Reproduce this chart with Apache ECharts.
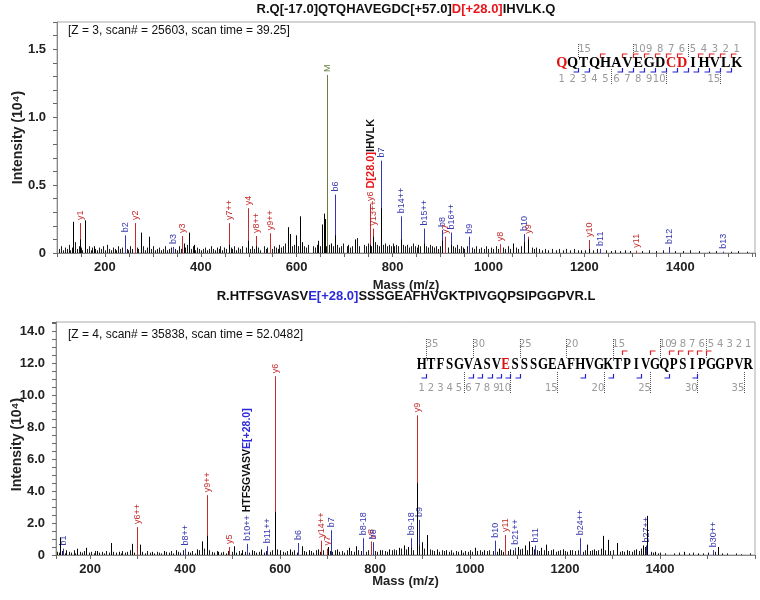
<!DOCTYPE html>
<html><head><meta charset="utf-8">
<script src="https://cdn.jsdelivr.net/npm/echarts@6/dist/echarts.min.js"></script>
<style>html,body{margin:0;padding:0;background:#fff}#c{width:760px;height:600px}</style>
</head><body><div id="c"></div>
<script>
// ---------------- DATA ----------------
const topTitleParts = [['R.Q[-17.0]QTQHAVEGDC[+57.0]', 'k'], ['D[+28.0]', 'r'], ['IHVLK.Q', 'k']];
const botTitleParts = [['R.HTFSGVASV', 'k'], ['E[+28.0]', 'b'], ['SSSGEAFHVGKTPIVGQPSIPGGPVR.L', 'k']];
const topInfo = '[Z = 3, scan# = 25603, scan time = 39.25]';
const botInfo = '[Z = 4, scan# = 35838, scan time = 52.0482]';
const xName = 'Mass (m/z)';
const yName = 'Intensity (10\u2074)';

// annotated fragment ions (m/z, intensity in 10^4, label)
const topIonMz = [148, 242, 263, 342, 361, 458, 498, 515, 544, 663, 679, 752, 760, 775, 817, 865, 904, 910, 921, 960, 1025, 1075, 1083, 1210, 1233, 1308, 1377, 1490];
const topIonInt = [0.22, 0.13, 0.22, 0.045, 0.125, 0.22, 0.33, 0.125, 0.145, 1.31, 0.43, 0.36, 0.18, 0.68, 0.27, 0.18, 0.17, 0.12, 0.15, 0.12, 0.065, 0.14, 0.12, 0.095, 0.03, 0.017, 0.045, 0.01];
const topIonLabel = ['y1','b2','y2','b3','y3','y7++','y4','y8++','y9++','M','b6','y6','y13++','b7','b14++','b15++','b8','y7','b16++','b9','y8','b10','y9','y10','b11','y11','b12','b13'];
const topFragParts = [['D[28.0]', 'r'], ['IHVLK', 'k']];
const topFragIon = 'y6';

const botIonMz = [143, 299, 400, 446, 493, 531, 573, 589, 638, 686, 699, 707, 775, 791, 796, 876, 888, 893, 1053, 1074, 1095, 1137, 1232, 1371, 1511];
const botIonInt = [0.4, 1.75, 0.4, 3.75, 0.5, 0.7, 0.55, 11.2, 0.75, 0.9, 0.4, 1.55, 1.05, 0.85, 0.8, 1.05, 8.75, 2.2, 0.9, 1.25, 0.45, 0.6, 1.05, 0.6, 0.3];
const botIonLabel = ['b1','y6++','b8++','y9++','y5','b10++','b11++','y6','b6','y14++','y7','b7','b8-18','y8','b8','b9-18','y9','b9','b10','y11','b21++','b11','b24++','b27++','b30++'];
const botFragParts = [['HTFSGVASV', 'k'], ['E[+28.0]', 'b']];
const botFragIon = 'b10++';

// unannotated peaks [m/z, intensity]
const topMajorPeaks = [[133,0.23],[147,0.10],[158,0.24],[178,0.05],[275,0.15],[292,0.12],[365,0.07],[375,0.15],[385,0.06],[458,0.06],[498,0.09],[515,0.05],[581,0.19],[585,0.14],[598,0.13],[606,0.27],[612,0.08],[645,0.09],[652,0.21],[656,0.29],[659,0.25],[672,0.07],[679,0.13],[721,0.10],[752,0.06],[760,0.12],[775,0.33],[817,0.10],[865,0.07],[904,0.09],[921,0.06],[1052,0.07],[1075,0.08],[1083,0.10],[1194,0.02],[1210,0.03]];
const topNoisePeaks = [[105,.03],[108,.05],[112,.02],[116,.04],[120,.03],[124,.06],[128,.02],[131,.04],[137,.08],[141,.03],[145,.05],[150,.04],[153,.02],[162,.03],[166,.05],[170,.02],[174,.04],[179,.03],[183,.02],[187,.04],[191,.03],[196,.05],[200,.02],[204,.06],[208,.03],[212,.02],[216,.04],[220,.03],[224,.02],[228,.05],[232,.03],[236,.04],[245,.03],[249,.02],[253,.05],[257,.03],[266,.04],[270,.03],[279,.05],[283,.02],[287,.04],[296,.03],[300,.05],[304,.02],[308,.03],[313,.04],[317,.02],[321,.03],[325,.05],[329,.02],[334,.03],[338,.04],[346,.03],[350,.02],[354,.05],[358,.03],[368,.04],[372,.06],[379,.03],[383,.05],[388,.02],[392,.04],[396,.03],[401,.02],[405,.03],[409,.04],[413,.02],[417,.03],[421,.05],[425,.03],[429,.02],[433,.04],[437,.03],[441,.05],[445,.02],[449,.04],[453,.03],[462,.04],[466,.03],[470,.05],[474,.02],[478,.04],[482,.03],[486,.05],[494,.04],[502,.03],[506,.05],[510,.03],[519,.04],[523,.02],[531,.05],[535,.03],[539,.04],[548,.03],[552,.05],[556,.04],[560,.03],[564,.06],[568,.04],[572,.05],[576,.07],[590,.05],[594,.06],[602,.05],[616,.05],[620,.04],[624,.06],[634,.05],[638,.04],[642,.06],[648,.05],[662,.05],[668,.06],[676,.05],[684,.06],[688,.04],[692,.05],[696,.07],[704,.05],[708,.06],[712,.04],[716,.05],[725,.11],[730,.05],[740,.06],[744,.05],[748,.07],[756,.05],[764,.08],[768,.06],[772,.05],[780,.06],[784,.07],[788,.05],[792,.06],[796,.05],[800,.07],[804,.05],[808,.06],[812,.05],[822,.06],[826,.05],[830,.06],[834,.04],[838,.05],[842,.07],[846,.05],[850,.04],[854,.06],[858,.05],[870,.05],[874,.04],[878,.06],[882,.05],[886,.04],[890,.05],[894,.03],[898,.05],[915,.04],[926,.05],[930,.04],[934,.06],[938,.03],[942,.05],[946,.04],[950,.03],[955,.05],[966,.04],[970,.03],[975,.05],[980,.03],[985,.04],[990,.03],[995,.05],[1000,.03],[1005,.04],[1010,.03],[1015,.05],[1020,.03],[1030,.04],[1035,.03],[1040,.05],[1045,.03],[1058,.04],[1062,.03],[1067,.05],[1090,.04],[1095,.03],[1100,.04],[1106,.03],[1112,.02],[1118,.03],[1125,.02],[1132,.03],[1140,.02],[1148,.03],[1155,.02],[1162,.03],[1170,.02],[1178,.03],[1186,.02],[1202,.02],[1218,.02],[1226,.03],[1245,.02],[1255,.015],[1265,.02],[1275,.015],[1285,.02],[1295,.015],[1320,.015],[1335,.02],[1350,.015],[1365,.02],[1390,.015],[1405,.015],[1420,.02],[1440,.015],[1460,.01],[1475,.015],[1505,.01],[1520,.015],[1540,.01]];

const botMajorPeaks = [[137,1.1],[150,0.3],[173,0.4],[192,0.45],[215,0.25],[244,0.75],[260,0.2],[288,0.7],[305,0.65],[330,0.2],[355,0.25],[380,0.3],[425,0.35],[436,0.85],[446,1.2],[470,0.2],[503,0.55],[520,0.3],[540,0.3],[560,0.35],[589,2.7],[600,0.3],[620,0.35],[645,0.55],[660,0.3],[680,0.35],[700,0.5],[720,0.35],[745,0.45],[760,0.55],[810,0.3],[830,0.35],[850,0.45],[860,0.6],[870,0.5],[888,4.5],[898,0.8],[910,1.25],[930,0.35],[950,0.3],[980,0.3],[1010,0.45],[1030,0.3],[1060,0.4],[1085,0.35],[1100,0.5],[1115,0.6],[1124,0.85],[1130,0.5],[1150,0.45],[1160,0.65],[1175,0.35],[1195,0.35],[1210,0.3],[1247,0.65],[1260,0.35],[1280,1.2],[1291,0.95],[1309,0.75],[1330,0.3],[1350,0.35],[1365,0.6],[1373,2.45],[1390,0.2],[1450,0.2],[1480,0.1],[1522,0.5]];
const botNoisePeaks = [[130,.2],[134,.15],[141,.25],[146,.1],[155,.2],[160,.15],[165,.3],[169,.1],[178,.2],[183,.15],[187,.25],[197,.15],[202,.2],[207,.1],[211,.25],[219,.15],[224,.2],[229,.1],[234,.25],[239,.15],[249,.2],[254,.15],[264,.1],[268,.25],[273,.15],[278,.2],[283,.3],[293,.15],[310,.2],[315,.1],[320,.25],[325,.15],[335,.1],[340,.2],[345,.15],[350,.1],[360,.2],[365,.15],[370,.25],[375,.1],[385,.2],[390,.15],[395,.3],[405,.2],[410,.15],[415,.25],[420,.1],[430,.3],[440,.4],[451,.3],[456,.2],[461,.15],[466,.25],[475,.15],[480,.2],[485,.1],[490,.25],[498,.2],[508,.15],[513,.25],[517,.1],[525,.2],[535,.15],[545,.25],[550,.15],[555,.2],[565,.15],[570,.25],[578,.2],[583,.3],[594,.35],[605,.2],[610,.15],[615,.25],[625,.2],[630,.3],[635,.15],[650,.25],[655,.2],[665,.25],[670,.15],[675,.3],[685,.2],[690,.3],[705,.25],[710,.2],[715,.3],[725,.2],[730,.25],[735,.15],[740,.3],[750,.25],[755,.2],[765,.3],[770,.25],[780,.2],[785,.3],[800,.25],[805,.2],[815,.3],[820,.25],[825,.2],[835,.3],[840,.35],[845,.3],[855,.4],[865,.35],[875,.45],[880,.3],[893,.6],[903,.4],[915,.35],[920,.3],[925,.25],[935,.2],[940,.3],[945,.25],[955,.2],[960,.3],[965,.15],[970,.25],[975,.2],[985,.15],[990,.25],[995,.2],[1000,.3],[1005,.2],[1015,.25],[1020,.3],[1025,.2],[1035,.25],[1040,.3],[1048,.25],[1056,.2],[1065,.3],[1070,.2],[1080,.25],[1090,.3],[1095,.2],[1105,.35],[1110,.4],[1120,.3],[1135,.35],[1140,.3],[1145,.25],[1155,.3],[1165,.25],[1170,.3],[1180,.2],[1185,.25],[1190,.3],[1200,.25],[1205,.2],[1215,.3],[1220,.25],[1228,.3],[1238,.2],[1242,.3],[1252,.25],[1256,.3],[1265,.25],[1270,.3],[1275,.4],[1285,.3],[1295,.25],[1300,.3],[1315,.2],[1320,.25],[1325,.2],[1335,.25],[1340,.2],[1345,.3],[1355,.25],[1360,.4],[1368,.5],[1380,.2],[1385,.15],[1395,.1],[1400,.15],[1410,.1],[1430,.1],[1440,.15],[1460,.1],[1470,.15],[1490,.1],[1500,.15],[1515,.2],[1530,.1],[1540,.1],[1560,.1],[1570,.05],[1590,.1]];

// peptide sequence coverage
const topSeq = 'QQTQHAVEGDCDIHVLK';
const topSeqMod = [0, 10, 11];
const topSeqY = [1, 2, 3, 4, 6, 7, 8, 9, 10, 11, 13];
const topSeqB = [2, 3, 6, 7, 8, 9, 10, 11, 12, 13, 14, 15, 16];
const botSeq = 'HTFSGVASVESSSGEAFHVGKTPIVGQPSIPGGPVR';
const botSeqMod = [9];
const botSeqY = [5, 6, 7, 8, 9, 11, 14];
const botSeqB = [1, 6, 7, 8, 9, 10, 11, 18, 21, 24, 27, 30];

// ---------------- STYLE ----------------
const SANS = '"Liberation Sans", Arial, sans-serif';
const C = { k: '#111', r: '#e8161b', b: '#2b2bdc' };
const ION = { y: '#c42b2b', b: '#3535b0', M: '#6b7f3e' };
const measureCtx = document.createElement('canvas').getContext('2d');
function textW(t, font) { measureCtx.font = font; return measureCtx.measureText(t).width; }
function rich(parts, size) {
  const r = {};
  Object.keys(C).forEach(k => { r[k] = { fill: C[k], fontSize: size, fontWeight: 'bold', fontFamily: SANS }; });
  return { text: parts.map(p => '{' + p[1] + '|' + p[0] + '}').join(''), rich: r };
}

const LABEL_FONT = '9px ' + SANS;
function stickRender(color) {
  return function (params, api) {
    const p0 = api.coord([api.value(0), 0]);
    const p1 = api.coord([api.value(0), api.value(1)]);
    const x = Math.round(p0[0]) + 0.5;
    return { type: 'line', silent: true, shape: { x1: x, y1: p0[1], x2: x, y2: p1[1] }, style: { stroke: color, lineWidth: 1 } };
  };
}
function ionRender(labels, fragParts, fragIon, fragSize) {
  return function (params, api) {
    const i = params.dataIndex;
    const p0 = api.coord([api.value(0), 0]);
    const p1 = api.coord([api.value(0), api.value(1)]);
    const x = Math.round(p0[0]) + 0.5;
    const lab = labels[i];
    const col = ION[lab[0]];
    const ch = [
      { type: 'line', shape: { x1: x, y1: p0[1], x2: x, y2: p1[1] }, style: { stroke: col, lineWidth: 1 } },
      { type: 'text', x: x + 0.5, y: p1[1] - 3, rotation: Math.PI / 2,
        style: { text: lab, fill: col, font: LABEL_FONT, align: 'left', verticalAlign: 'middle' } }
    ];
    if (lab === fragIon) {
      const w = textW(lab, LABEL_FONT);
      const rt = rich(fragParts, fragSize);
      ch.push({ type: 'text', x: x, y: p1[1] - 3 - w - 3, rotation: Math.PI / 2,
        style: Object.assign({ align: 'left', verticalAlign: 'middle' }, rt) });
    }
    return { type: 'group', silent: true, children: ch };
  };
}

function seqGraphics(seq, mod, yIons, bIons, g) {
  const els = [];
  const N = seq.length;
  const cx = i => g.x0 + i * g.pitch;
  for (let i = 0; i < N; i++) {
    els.push({ type: 'text', x: cx(i), y: g.yL, scaleX: g.scaleX, silent: true,
      style: { text: seq[i], fill: mod.includes(i) ? '#e01010' : '#000', font: g.font, align: 'center', verticalAlign: 'middle' } });
  }
  const numFont = '10px "DejaVu Sans", sans-serif';
  for (let k = 1; k < N; k++) {
    if (!(k <= 10 || k % 5 === 0)) continue;
    els.push({ type: 'text', x: cx(N - k) + (k >= 10 ? 1 : 0), y: g.yNumTop, silent: true,
      style: { text: String(k), fill: '#9a9a9a', font: numFont, align: 'center', verticalAlign: 'middle' } });
    els.push({ type: 'text', x: cx(k - 1) + (k >= 10 ? -1 : 0), y: g.yNumBot, silent: true,
      style: { text: String(k), fill: '#9a9a9a', font: numFont, align: 'center', verticalAlign: 'middle' } });
    if (k % 5 === 0) {
      const ax = Math.round(cx(N - k) - g.pitch / 2) + 0.5;
      els.push({ type: 'line', silent: true, shape: { x1: ax, y1: g.yNumTop - 5, x2: ax, y2: g.yL - g.capHalf - 1 },
        style: { stroke: '#555', lineWidth: 1, lineDash: [1, 1] } });
      const bx = Math.round(cx(k - 1) + g.pitch / 2) + 0.5;
      els.push({ type: 'line', silent: true, shape: { x1: bx, y1: g.yL + g.capHalf + 1, x2: bx, y2: g.yNumBot + 5 },
        style: { stroke: '#555', lineWidth: 1, lineDash: [1, 1] } });
    }
  }
  yIons.forEach(k => {
    const bx = Math.round(cx(N - k) - g.pitch / 2) + 0.5;
    els.push({ type: 'polyline', silent: true, shape: { points: [[bx, g.yRed + 4], [bx, g.yRed], [bx + 5, g.yRed]] },
      style: { stroke: '#e02020', lineWidth: 1.2, fill: null } });
  });
  bIons.forEach(k => {
    const bx = Math.round(cx(k - 1) + g.pitch / 2) + 0.5;
    els.push({ type: 'polyline', silent: true, shape: { points: [[bx - 5, g.yBlue], [bx, g.yBlue], [bx, g.yBlue - 4]] },
      style: { stroke: '#2020d0', lineWidth: 1.2, fill: null } });
  });
  return els;
}

const topGeom = { x0: 561.7, pitch: 10.94, yL: 63, font: 'bold 15px "Liberation Serif", serif', scaleX: 0.95, capHalf: 5, yNumTop: 49, yRed: 54, yBlue: 72, yNumBot: 79 };
const botGeom = { x0: 421.7, pitch: 9.33, yL: 365, font: 'bold 17px "Liberation Serif", serif', scaleX: 0.76, capHalf: 6, yNumTop: 344, yRed: 351, yBlue: 378, yNumBot: 388 };

// ---------------- AXES ----------------
const axisLabelStyle = { color: '#222', fontWeight: 'bold', fontSize: 13, fontFamily: SANS };
const nameStyle = { color: '#222', fontWeight: 'bold', fontSize: 13, fontFamily: SANS };
function xAx(grid, opts) {
  return Object.assign({
    gridIndex: grid, type: 'value',
    axisLine: { show: true, onZero: false, lineStyle: { color: '#888', width: 1 } },
    axisTick: { show: true, length: 4, lineStyle: { color: '#666' } },
    splitLine: { show: false },
    name: xName, nameLocation: 'middle', nameMoveOverlap: false, nameTextStyle: nameStyle
  }, opts);
}
function yAx(grid, opts) {
  return Object.assign({
    gridIndex: grid, type: 'value', min: 0,
    axisLine: { show: true, lineStyle: { color: '#888', width: 1 } },
    axisTick: { show: true, length: 4, lineStyle: { color: '#666' } },
    splitLine: { show: false },
    name: yName, nameLocation: 'middle', nameGap: 32, nameRotate: 90, nameMoveOverlap: false,
    nameTextStyle: Object.assign({}, nameStyle, { fontSize: 14 })
  }, opts);
}
const isMul = (v, s) => Math.abs(v / s - Math.round(v / s)) < 1e-6;

const option = {
  animation: false,
  backgroundColor: '#fff',
  grid: [
    { left: 57, top: 22, width: 698, height: 231, containLabel: false, outerBoundsMode: 'none', show: true, borderColor: '#aaa', borderWidth: 1, backgroundColor: 'transparent' },
    { left: 56, top: 322, width: 699, height: 233, containLabel: false, outerBoundsMode: 'none', show: true, borderColor: '#aaa', borderWidth: 1, backgroundColor: 'transparent' }
  ],
  xAxis: [
    xAx(0, { min: 100, max: 1556, interval: 50, nameGap: 26,
      axisLabel: Object.assign({ margin: 8, interval: 0, formatter: v => (isMul(v, 200) ? String(v) : '') }, axisLabelStyle) }),
    xAx(1, { min: 128, max: 1600, splitNumber: 7, nameGap: 20,
      minorTick: { show: true, splitNumber: 2, length: 4, lineStyle: { color: '#666' } },
      axisLabel: Object.assign({ margin: 8, interval: 0, formatter: v => (isMul(v, 200) && v < 1600 ? String(v) : '') }, axisLabelStyle) })
  ],
  yAxis: [
    yAx(0, { max: 1.7, interval: 0.1,
      axisLabel: Object.assign({ margin: 11, interval: 0, formatter: v => (v === 0 ? '0' : (isMul(v, 0.5) ? v.toFixed(1) : '')) }, axisLabelStyle) }),
    yAx(1, { max: 14.6, interval: 0.5,
      nameTextStyle: Object.assign({}, nameStyle, { fontSize: 14, padding: [0, 12, 0, 0] }),
      axisLabel: Object.assign({ margin: 11, interval: 0, formatter: v => (v === 0 ? '0' : (isMul(v, 2) ? v.toFixed(1) : '')) }, axisLabelStyle) })
  ],
  series: [
    { type: 'custom', xAxisIndex: 0, yAxisIndex: 0, clip: true, z: 2, encode: { x: 0, y: 1 },
      data: topIonMz.map((m, i) => [m, topIonInt[i]]), renderItem: ionRender(topIonLabel, topFragParts, topFragIon, 11) },
    { type: 'custom', xAxisIndex: 0, yAxisIndex: 0, clip: true, z: 3, encode: { x: 0, y: 1 },
      data: topNoisePeaks, renderItem: stickRender('#1a1a1a') },
    { type: 'custom', xAxisIndex: 0, yAxisIndex: 0, clip: true, z: 3, encode: { x: 0, y: 1 },
      data: topMajorPeaks, renderItem: stickRender('#000') },
    { type: 'custom', xAxisIndex: 1, yAxisIndex: 1, clip: true, z: 2, encode: { x: 0, y: 1 },
      data: botIonMz.map((m, i) => [m, botIonInt[i]]), renderItem: ionRender(botIonLabel, botFragParts, botFragIon, 10.5) },
    { type: 'custom', xAxisIndex: 1, yAxisIndex: 1, clip: true, z: 3, encode: { x: 0, y: 1 },
      data: botNoisePeaks, renderItem: stickRender('#1a1a1a') },
    { type: 'custom', xAxisIndex: 1, yAxisIndex: 1, clip: true, z: 3, encode: { x: 0, y: 1 },
      data: botMajorPeaks, renderItem: stickRender('#000') }
  ],
  graphic: { elements: [].concat(
    [
      { type: 'text', x: 406, y: 9, silent: true, style: Object.assign({ align: 'center', verticalAlign: 'middle' }, rich(topTitleParts, 13)) },
      { type: 'text', x: 406, y: 296, silent: true, style: Object.assign({ align: 'center', verticalAlign: 'middle' }, rich(botTitleParts, 13)) },
      { type: 'text', x: 68, y: 31, silent: true, style: { text: topInfo, fill: '#111', font: '12px ' + SANS, align: 'left', verticalAlign: 'middle' } },
      { type: 'text', x: 68, y: 335, silent: true, style: { text: botInfo, fill: '#111', font: '12px ' + SANS, align: 'left', verticalAlign: 'middle' } }
    ],
    seqGraphics(topSeq, topSeqMod, topSeqY, topSeqB, topGeom),
    seqGraphics(botSeq, botSeqMod, botSeqY, botSeqB, botGeom)
  ) }
};

const chart = echarts.init(document.getElementById('c'), null, { renderer: 'canvas' });
chart.setOption(option);
</script></body></html>
